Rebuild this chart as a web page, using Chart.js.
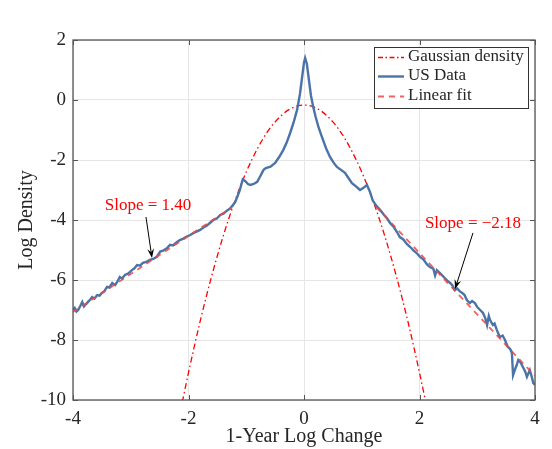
<!DOCTYPE html>
<html>
<head>
<meta charset="utf-8">
<script src="https://cdn.jsdelivr.net/npm/chart.js@4/dist/chart.umd.min.js"></script>
<style>
html,body{margin:0;padding:0;background:#fff;}
#wrap{width:552px;height:449px;position:relative;}
</style>
</head>
<body>
<div id="wrap"><canvas id="c" width="552" height="449"></canvas></div>
<script>
// ---- data ----
const usX = [-4.00,-3.97,-3.94,-3.91,-3.87,-3.84,-3.81,-3.79,-3.76,-3.74,-3.70,-3.67,-3.63,-3.58,-3.54,-3.50,-3.46,-3.41,-3.37,-3.32,-3.27,-3.23,-3.19,-3.15,-3.10,-3.04,-2.98,-2.94,-2.89,-2.84,-2.79,-2.73,-2.67,-2.61,-2.55,-2.49,-2.44,-2.38,-2.32,-2.27,-2.21,-2.15,-2.09,-2.03,-1.97,-1.91,-1.85,-1.80,-1.74,-1.68,-1.63,-1.57,-1.51,-1.45,-1.39,-1.33,-1.28,-1.23,-1.19,-1.15,-1.11,-1.08,-1.06,-1.02,-0.97,-0.93,-0.87,-0.81,-0.76,-0.70,-0.66,-0.58,-0.50,-0.43,-0.36,-0.30,-0.24,-0.18,-0.12,-0.07,-0.03,0.00,0.02,0.05,0.09,0.12,0.16,0.20,0.25,0.31,0.38,0.45,0.51,0.57,0.64,0.71,0.77,0.83,0.90,0.97,1.03,1.09,1.14,1.19,1.25,1.32,1.38,1.44,1.49,1.55,1.61,1.66,1.72,1.78,1.84,1.90,1.95,2.01,2.07,2.13,2.18,2.24,2.27,2.30,2.36,2.42,2.48,2.53,2.57,2.61,2.65,2.70,2.74,2.78,2.82,2.87,2.91,2.96,3.00,3.05,3.10,3.14,3.17,3.20,3.22,3.27,3.30,3.34,3.39,3.44,3.48,3.53,3.57,3.60,3.62,3.65,3.68,3.71,3.75,3.79,3.83,3.86,3.91,3.94,3.97,4.00];
const usY = [-7.00,-6.93,-7.05,-7.00,-6.85,-6.73,-6.88,-6.83,-6.78,-6.73,-6.65,-6.57,-6.62,-6.50,-6.52,-6.43,-6.38,-6.23,-6.25,-6.10,-6.17,-6.05,-5.90,-5.95,-5.83,-5.78,-5.67,-5.62,-5.50,-5.52,-5.43,-5.40,-5.33,-5.30,-5.23,-5.05,-5.02,-4.95,-4.83,-4.85,-4.75,-4.67,-4.62,-4.55,-4.50,-4.43,-4.38,-4.33,-4.25,-4.18,-4.10,-4.00,-3.95,-3.83,-3.78,-3.68,-3.62,-3.50,-3.40,-3.20,-3.00,-2.78,-2.65,-2.70,-2.80,-2.83,-2.80,-2.73,-2.55,-2.33,-2.27,-2.22,-2.10,-1.90,-1.67,-1.42,-1.10,-0.75,-0.33,0.20,0.80,1.25,1.40,1.20,0.60,0.15,-0.23,-0.55,-0.90,-1.23,-1.60,-1.90,-2.08,-2.23,-2.33,-2.43,-2.60,-2.77,-2.88,-3.00,-2.93,-2.83,-3.05,-3.35,-3.52,-3.67,-3.82,-3.95,-4.10,-4.22,-4.40,-4.57,-4.65,-4.80,-4.90,-5.02,-5.10,-5.23,-5.32,-5.48,-5.57,-5.62,-5.85,-5.67,-5.78,-5.90,-6.02,-6.10,-6.18,-6.33,-6.28,-6.38,-6.43,-6.50,-6.67,-6.77,-6.70,-6.77,-6.90,-7.00,-7.10,-7.28,-7.50,-7.20,-7.33,-7.50,-7.45,-7.67,-7.90,-7.85,-8.00,-8.23,-8.30,-8.43,-9.17,-9.00,-8.85,-8.67,-8.75,-8.90,-9.05,-9.23,-9.00,-9.20,-9.43,-9.50];

const gaussX = [-2.2,-2.1,-2.0,-1.9,-1.8,-1.7,-1.6,-1.5,-1.4,-1.3,-1.2,-1.1,-1.0,-0.9,-0.8,-0.7,-0.6,-0.5,-0.4,-0.3,-0.2,-0.1,0.0,0.1,0.2,0.3,0.4,0.5,0.6,0.7,0.8,0.9,1.0,1.1,1.2,1.3,1.4,1.5,1.6,1.7,1.8,1.9,2.0,2.1,2.2];
const gaussY = [-10.96,-10.00,-9.09,-8.22,-7.39,-6.61,-5.88,-5.19,-4.54,-3.94,-3.38,-2.87,-2.40,-1.98,-1.60,-1.26,-0.97,-0.73,-0.53,-0.37,-0.26,-0.19,-0.17,-0.19,-0.26,-0.37,-0.53,-0.73,-0.97,-1.26,-1.60,-1.98,-2.40,-2.87,-3.38,-3.94,-4.54,-5.19,-5.88,-6.61,-7.39,-8.22,-9.09,-10.00,-10.96];

const fitLeftX = [-4.0, -1.25];
const fitLeftY = [-7.07, -3.58];
const fitRightX = [1.25, 4.0];
const fitRightY = [-3.56, -9.20];

const xTicks = [-4,-2,0,2,4];
const yTicks = [2,0,-2,-4,-6,-8,-10];

const seriesNames = ["Gaussian density","US Data","Linear fit"];
const slopeLabels = ["Slope = 1.40","Slope = \u22122.18"];

// ---- build ----
const pts = (xs, ys) => xs.map((x, i) => ({x: x, y: ys[i]}));
const FONT = "'Liberation Serif', 'DejaVu Serif', serif";
const RED = '#ff0000';
const BLUE = '#4a74a8';
const FITRED = 'rgba(240,70,70,0.85)';

const overlay = {
  id: 'overlay',
  afterDraw(chart) {
    const ctx = chart.ctx;
    const a = chart.chartArea;
    const xs = chart.scales.x, ys = chart.scales.y;
    ctx.save();
    // box
    ctx.strokeStyle = '#555';
    ctx.lineWidth = 1.3;
    ctx.strokeRect(a.left, a.top, a.right - a.left, a.bottom - a.top);
    // ticks inward
    ctx.lineWidth = 1;
    ctx.beginPath();
    xTicks.forEach(t => {
      const px = Math.round(xs.getPixelForValue(t)) + 0.5;
      ctx.moveTo(px, a.bottom); ctx.lineTo(px, a.bottom - 5);
      ctx.moveTo(px, a.top); ctx.lineTo(px, a.top + 5);
    });
    yTicks.forEach(t => {
      const py = Math.round(ys.getPixelForValue(t)) + 0.5;
      ctx.moveTo(a.left, py); ctx.lineTo(a.left + 5, py);
      ctx.moveTo(a.right, py); ctx.lineTo(a.right - 5, py);
    });
    ctx.stroke();

    // axis titles
    ctx.fillStyle = '#262626';
    ctx.font = "20px " + FONT;
    ctx.textAlign = 'center';
    ctx.textBaseline = 'middle';
    ctx.fillText('1-Year Log Change', (a.left + a.right) / 2, 437);
    ctx.save();
    ctx.translate(27, (a.top + a.bottom) / 2);
    ctx.rotate(-Math.PI / 2);
    ctx.fillText('Log Density', 0, 0);
    ctx.restore();

    // annotations
    ctx.font = "17px " + FONT;
    ctx.fillStyle = RED;
    ctx.fillText(slopeLabels[0], xs.getPixelForValue(-2.70), ys.getPixelForValue(-3.53));
    ctx.fillText(slopeLabels[1], xs.getPixelForValue(2.926), ys.getPixelForValue(-4.13));
    const arrow = (x0, y0, x1, y1) => {
      const p0 = [xs.getPixelForValue(x0), ys.getPixelForValue(y0)];
      const p1 = [xs.getPixelForValue(x1), ys.getPixelForValue(y1)];
      const ang = Math.atan2(p1[1] - p0[1], p1[0] - p0[0]);
      ctx.strokeStyle = '#000'; ctx.fillStyle = '#000'; ctx.lineWidth = 1;
      ctx.beginPath(); ctx.moveTo(p0[0], p0[1]);
      ctx.lineTo(p1[0] - 6 * Math.cos(ang), p1[1] - 6 * Math.sin(ang)); ctx.stroke();
      ctx.beginPath();
      ctx.moveTo(p1[0], p1[1]);
      ctx.lineTo(p1[0] - 10 * Math.cos(ang - 0.35), p1[1] - 10 * Math.sin(ang - 0.35));
      ctx.lineTo(p1[0] - 6 * Math.cos(ang), p1[1] - 6 * Math.sin(ang));
      ctx.lineTo(p1[0] - 10 * Math.cos(ang + 0.35), p1[1] - 10 * Math.sin(ang + 0.35));
      ctx.closePath(); ctx.fill();
    };
    arrow(-2.736, -3.90, -2.632, -5.27);
    arrow(2.926, -4.43, 2.615, -6.30);

    // legend
    const lx = 374, ly = 47, lw = 154, lh = 61;
    ctx.fillStyle = '#fff';
    ctx.fillRect(lx, ly, lw, lh);
    ctx.strokeStyle = '#333'; ctx.lineWidth = 1;
    ctx.strokeRect(lx + 0.5, ly + 0.5, lw, lh);
    const rows = [57, 76, 96];
    const styles = [
      {c: RED, w: 1.3, d: [5, 2.5, 1.5, 2.5]},
      {c: BLUE, w: 2.4, d: []},
      {c: FITRED, w: 1.8, d: [6, 5]}
    ];
    rows.forEach((ry, i) => {
      ctx.strokeStyle = styles[i].c; ctx.lineWidth = styles[i].w;
      ctx.setLineDash(styles[i].d);
      ctx.beginPath(); ctx.moveTo(378, ry + 0.5); ctx.lineTo(404, ry + 0.5); ctx.stroke();
      ctx.setLineDash([]);
      ctx.fillStyle = '#262626';
      ctx.font = "17px " + FONT;
      ctx.textAlign = 'left';
      ctx.fillText(seriesNames[i], 408, ry);
    });
    ctx.restore();
  }
};

new Chart(document.getElementById('c'), {
  type: 'line',
  data: {
    datasets: [
      {label: seriesNames[0], data: pts(gaussX, gaussY), borderColor: RED, borderWidth: 1.3,
       borderDash: [6, 3, 1.5, 3], pointRadius: 0, tension: 0, cubicInterpolationMode: 'monotone', order: 3},
      {label: seriesNames[1], data: pts(usX, usY), borderColor: BLUE, borderWidth: 2.4,
       pointRadius: 0, tension: 0, order: 2},
      {label: seriesNames[2], data: pts(fitLeftX, fitLeftY), borderColor: FITRED, borderWidth: 1.8,
       borderDash: [6, 5], pointRadius: 0, order: 1},
      {label: seriesNames[2] + ' (right)', data: pts(fitRightX, fitRightY), borderColor: FITRED, borderWidth: 1.8,
       borderDash: [6, 5], pointRadius: 0, order: 1}
    ]
  },
  options: {
    responsive: false,
    animation: false,
    parsing: true,
    layout: {padding: {left: 0, right: 17, top: 40, bottom: 0}},
    plugins: {legend: {display: false}, tooltip: {enabled: false}},
    scales: {
      x: {
        type: 'linear', min: -4, max: 4,
        afterFit: s => { s.height = 49; },
        afterBuildTicks: s => { s.ticks = xTicks.map(v => ({value: v})); },
        grid: {color: '#e6e6e6', lineWidth: 1, drawTicks: false},
        border: {display: false},
        ticks: {padding: 8, color: '#262626', font: {family: FONT, size: 19}, maxRotation: 0, callback: v => String(v)}
      },
      y: {
        type: 'linear', min: -10, max: 2,
        afterFit: s => { s.width = 73; },
        afterBuildTicks: s => { s.ticks = yTicks.map(v => ({value: v})); },
        grid: {color: '#e6e6e6', lineWidth: 1, drawTicks: false},
        border: {display: false},
        ticks: {padding: 7, color: '#262626', font: {family: FONT, size: 19}, callback: v => String(v)}
      }
    }
  },
  plugins: [overlay]
});
</script>
</body>
</html>
